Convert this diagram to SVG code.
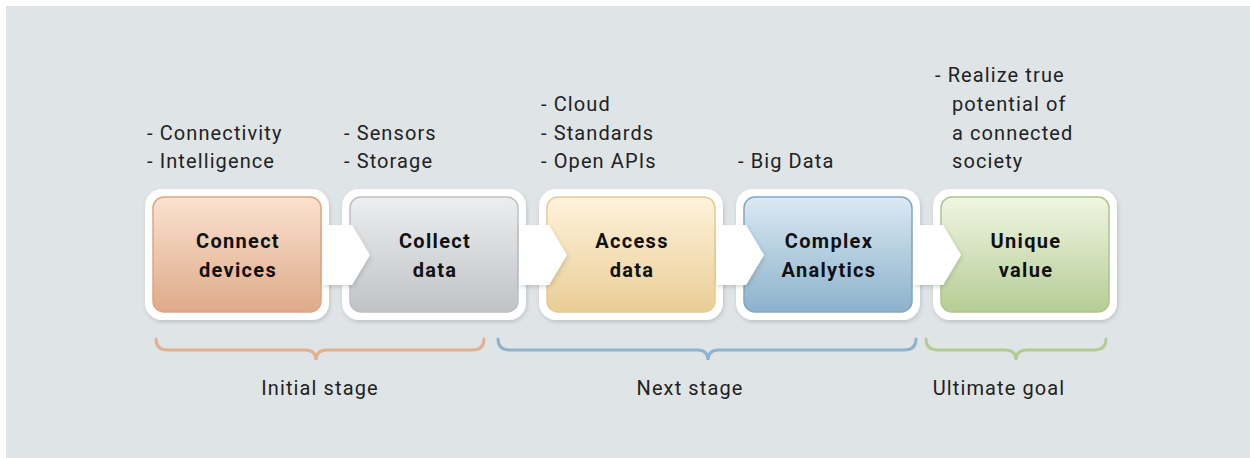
<svg xmlns="http://www.w3.org/2000/svg" width="1250" height="458" viewBox="0 0 1250 458">
  <defs>
    <linearGradient id="gOrange" x1="0" y1="0" x2="0" y2="1">
      <stop offset="0" stop-color="#fbe2d0"/>
      <stop offset="1" stop-color="#deaa89"/>
    </linearGradient>
    <linearGradient id="gGrey" x1="0" y1="0" x2="0" y2="1">
      <stop offset="0" stop-color="#eceeef"/>
      <stop offset="1" stop-color="#c0c3c6"/>
    </linearGradient>
    <linearGradient id="gYellow" x1="0" y1="0" x2="0" y2="1">
      <stop offset="0" stop-color="#fef3db"/>
      <stop offset="1" stop-color="#eacd96"/>
    </linearGradient>
    <linearGradient id="gBlue" x1="0" y1="0" x2="0" y2="1">
      <stop offset="0" stop-color="#dbe9f3"/>
      <stop offset="1" stop-color="#8cb2cb"/>
    </linearGradient>
    <linearGradient id="gGreen" x1="0" y1="0" x2="0" y2="1">
      <stop offset="0" stop-color="#f1f5e2"/>
      <stop offset="1" stop-color="#b5cd95"/>
    </linearGradient>
    <filter id="shadow" x="-10%" y="-10%" width="130%" height="130%">
      <feDropShadow dx="1" dy="2" stdDeviation="2" flood-color="#000" flood-opacity="0.15"/>
    </filter>
    <path id="chev" d="M-18,-30 L12,-30 L30,0 L12,30 L-18,30 Z"/>
  </defs>
  <style>
    .frame { fill: #ffffff; filter: url(#shadow); }
    .title { font-family: Roboto, "Liberation Sans", sans-serif; font-weight: bold; font-size: 20px; letter-spacing: 1.3px; fill: #111; text-anchor: middle; }
    .note { font-family: Roboto, "Liberation Sans", sans-serif; font-size: 20px; letter-spacing: 1.1px; fill: #222; }
    .stage { font-family: Roboto, "Liberation Sans", sans-serif; font-size: 20px; letter-spacing: 1.1px; fill: #222; text-anchor: middle; }
    .brace { fill: none; stroke-width: 3; stroke-linecap: round; }
    .arrow { fill: #ffffff; filter: url(#shadow); }
  </style>

  <!-- panel -->
  <rect x="0" y="0" width="1250" height="458" fill="#ffffff"/>
  <rect x="6" y="6" width="1244" height="452" fill="#dfe4e6"/>

  <!-- white frames behind the stages -->
  <g id="frames">
    <rect class="frame" x="145" y="189" width="184" height="131" rx="17"/>
    <rect class="frame" x="342" y="189" width="184" height="131" rx="17"/>
    <rect class="frame" x="539" y="189" width="184" height="131" rx="17"/>
    <rect class="frame" x="736" y="189" width="184" height="131" rx="17"/>
    <rect class="frame" x="933" y="189" width="184" height="131" rx="17"/>
  </g>

  <g id="n1">
    <rect x="153" y="197" width="168" height="115" rx="11" fill="url(#gOrange)" stroke="#dca585" stroke-width="1.5"/>
    <text class="title" x="238" y="248">Connect</text>
    <text class="title" x="238" y="277">devices</text>
  </g>
  <g id="n2">
    <rect x="350" y="197" width="168" height="115" rx="11" fill="url(#gGrey)" stroke="#bcc0c3" stroke-width="1.5"/>
    <text class="title" x="435" y="248">Collect</text>
    <text class="title" x="435" y="277">data</text>
  </g>
  <g id="n3">
    <rect x="547" y="197" width="168" height="115" rx="11" fill="url(#gYellow)" stroke="#e6ca94" stroke-width="1.5"/>
    <text class="title" x="632" y="248">Access</text>
    <text class="title" x="632" y="277">data</text>
  </g>
  <g id="n4">
    <rect x="744" y="197" width="168" height="115" rx="11" fill="url(#gBlue)" stroke="#82a7c2" stroke-width="1.5"/>
    <text class="title" x="829" y="248">Complex</text>
    <text class="title" x="829" y="277">Analytics</text>
  </g>
  <g id="n5">
    <rect x="941" y="197" width="168" height="115" rx="11" fill="url(#gGreen)" stroke="#abc58b" stroke-width="1.5"/>
    <text class="title" x="1026" y="248">Unique</text>
    <text class="title" x="1026" y="277">value</text>
  </g>

  <!-- connectors between stages -->
  <g id="connectors">
    <use href="#chev" class="arrow" transform="translate(340,255)"/>
    <use href="#chev" class="arrow" transform="translate(537,255)"/>
    <use href="#chev" class="arrow" transform="translate(734,255)"/>
    <use href="#chev" class="arrow" transform="translate(931,255)"/>
  </g>

  <!-- notes above each stage -->
  <g id="notes">
    <text class="note" x="147" y="140">- Connectivity</text>
    <text class="note" x="147" y="168">- Intelligence</text>
    <text class="note" x="344" y="140">- Sensors</text>
    <text class="note" x="344" y="168">- Storage</text>
    <text class="note" x="541" y="111">- Cloud</text>
    <text class="note" x="541" y="140">- Standards</text>
    <text class="note" x="541" y="168">- Open APIs</text>
    <text class="note" x="738" y="168">- Big Data</text>
    <text class="note" x="935" y="82">- Realize true</text>
    <text class="note" x="952" y="111">potential of</text>
    <text class="note" x="952" y="140">a connected</text>
    <text class="note" x="952" y="168">society</text>
  </g>

  <!-- stage braces -->
  <g id="braces">
    <path class="brace" stroke="#e2b190" d="M156,339 Q156,350 168,350 L305,350 Q316,350 316,360 Q316,350 327,350 L472,350 Q484,350 484,339"/>
    <path class="brace" stroke="#8fb3cd" d="M498,339 Q498,350 510,350 L697,350 Q708,350 708,360 Q708,350 719,350 L904,350 Q916,350 916,339"/>
    <path class="brace" stroke="#b2cc94" d="M926,339 Q926,350 938,350 L1005,350 Q1016,350 1016,360 Q1016,350 1027,350 L1094,350 Q1106,350 1106,339"/>
  </g>

  <g id="stages">
    <text class="stage" x="320" y="395">Initial stage</text>
    <text class="stage" x="690" y="395">Next stage</text>
    <text class="stage" x="999" y="395">Ultimate goal</text>
  </g>
</svg>
